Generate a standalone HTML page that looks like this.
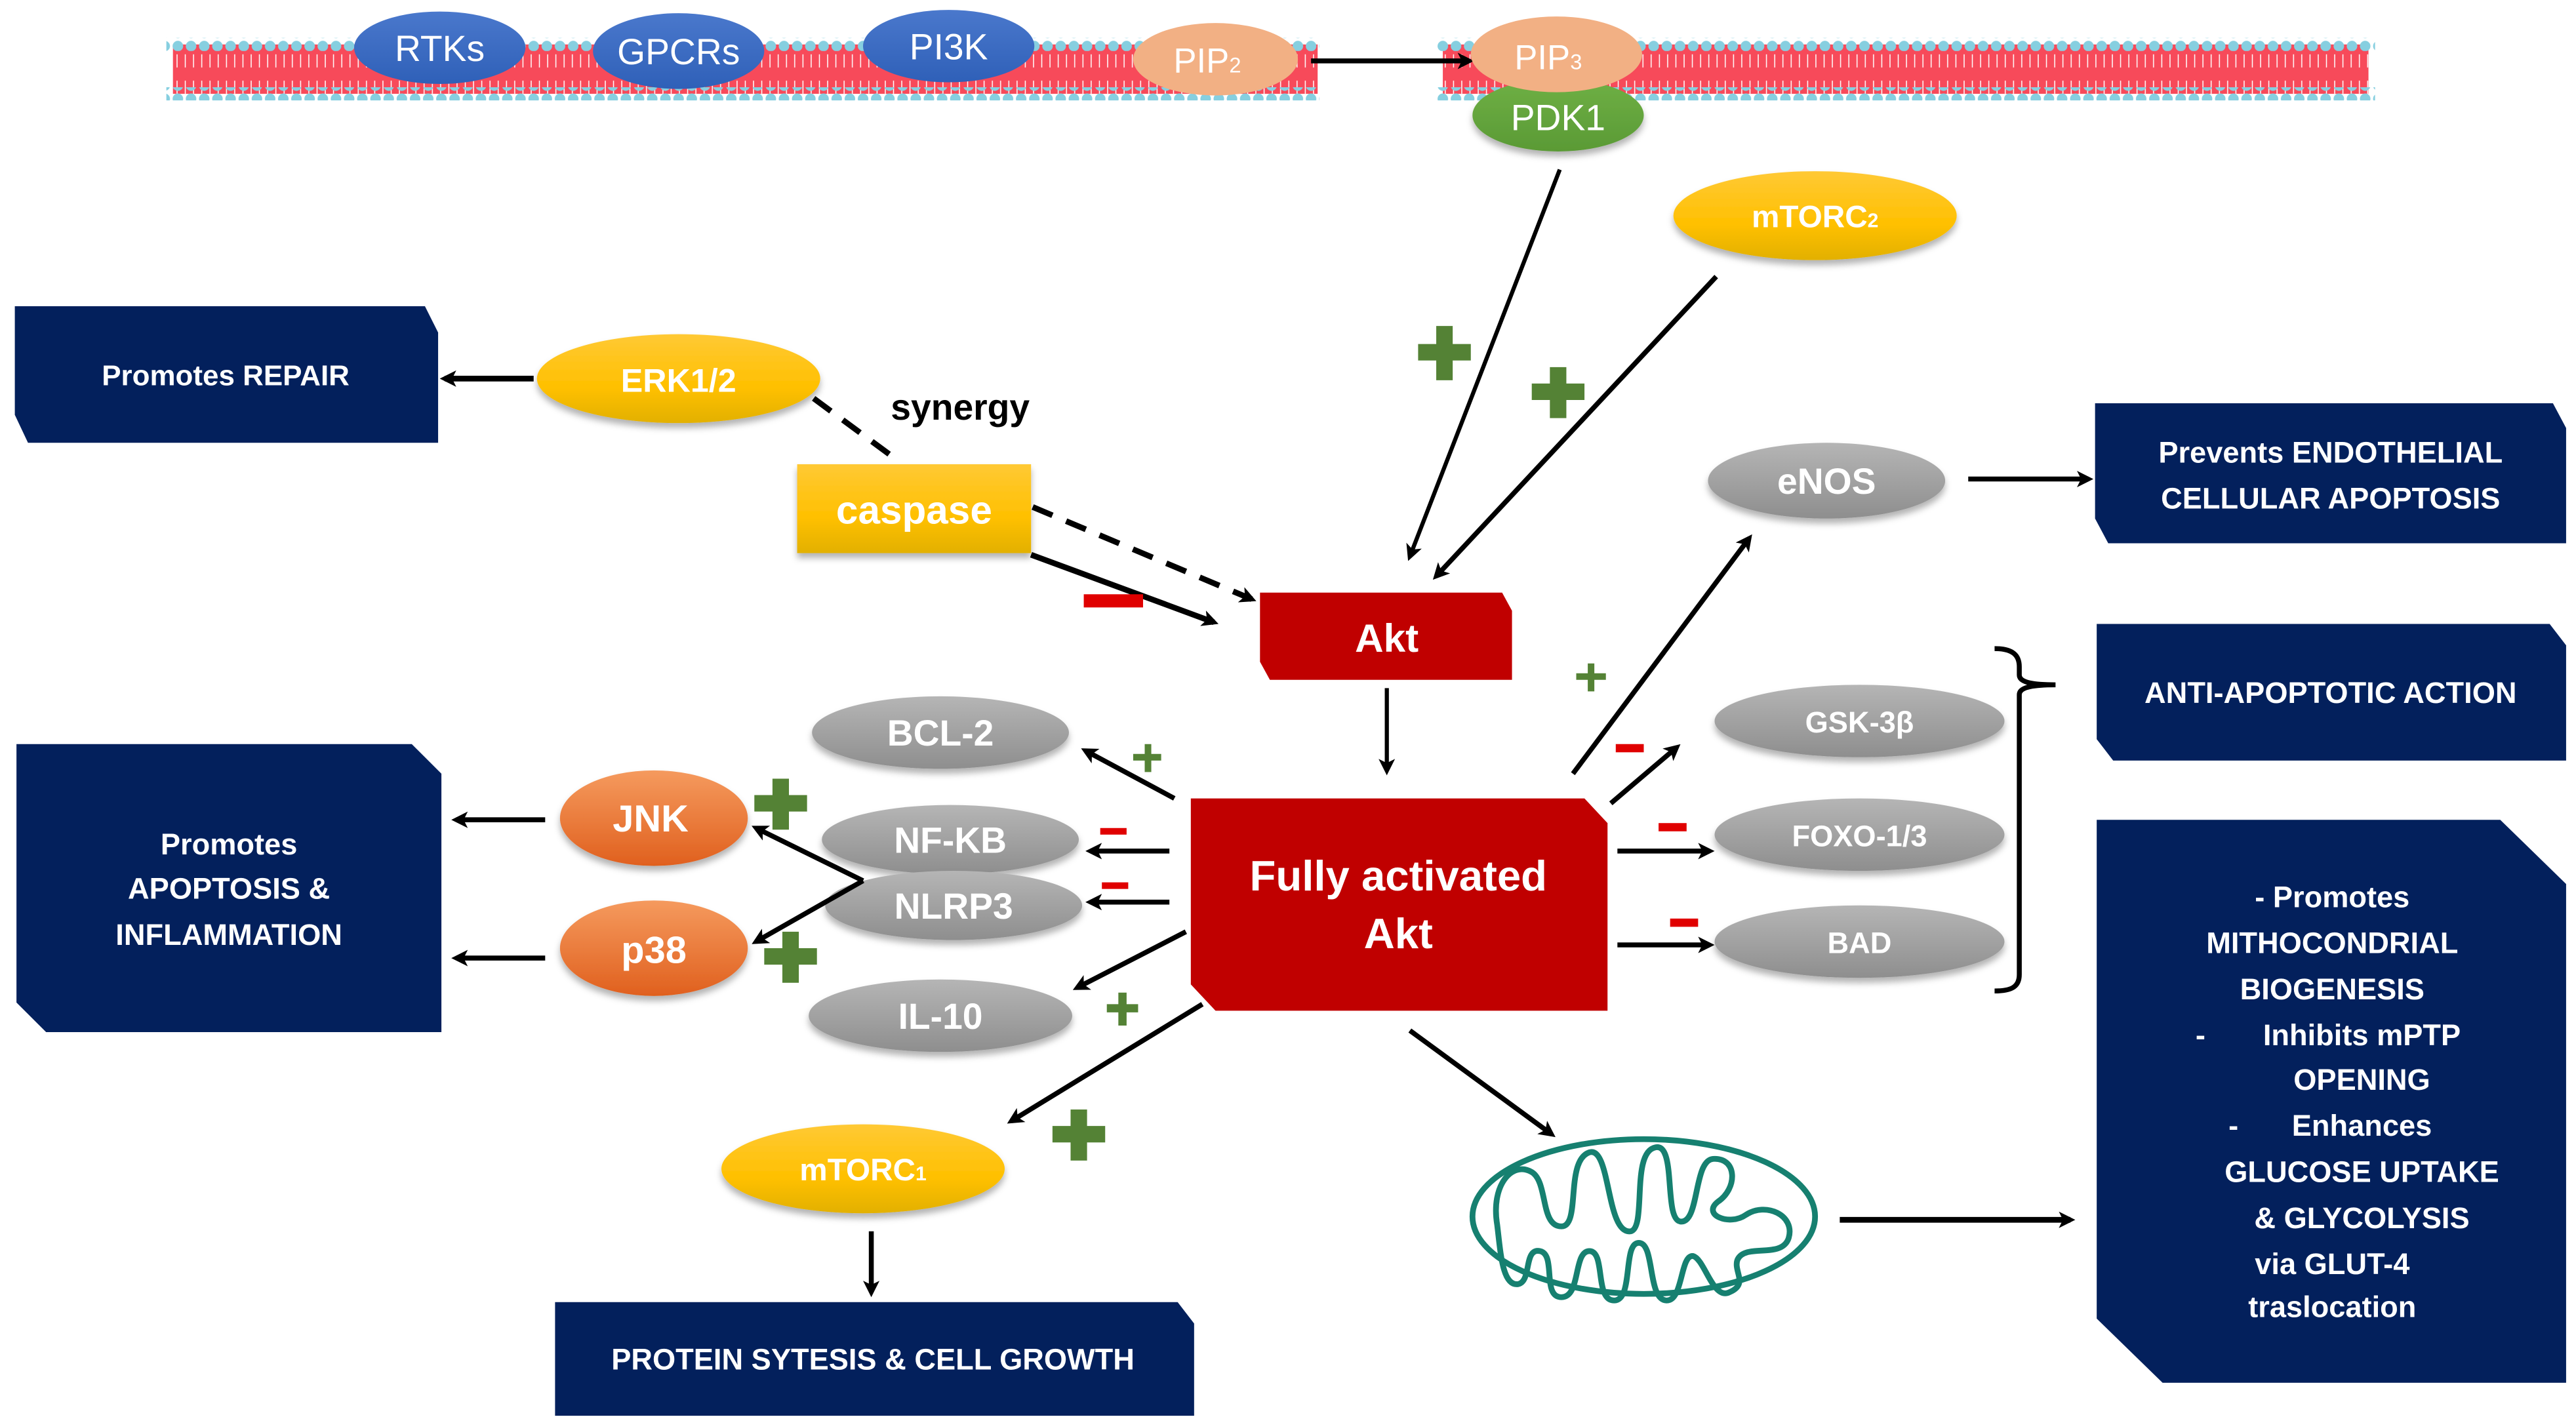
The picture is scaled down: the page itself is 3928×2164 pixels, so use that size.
<!DOCTYPE html>
<html><head><meta charset="utf-8"><style>
html,body{margin:0;padding:0;background:#fff;}
svg{display:block;}
text{font-family:"Liberation Sans",sans-serif;}
</style></head><body>
<svg width="3928" height="2164" viewBox="0 0 1564 862" preserveAspectRatio="none" xmlns="http://www.w3.org/2000/svg">
<defs>
<linearGradient id="yel" x1="0" y1="0" x2="0" y2="1"><stop offset="0" stop-color="#ffc935"/><stop offset="0.6" stop-color="#ffc000"/><stop offset="1" stop-color="#e2b000"/></linearGradient>
<linearGradient id="gry" x1="0" y1="0" x2="0" y2="1"><stop offset="0" stop-color="#b5b5b5"/><stop offset="1" stop-color="#8e8e8e"/></linearGradient>
<linearGradient id="blu" x1="0" y1="0" x2="0" y2="1"><stop offset="0" stop-color="#4a78cc"/><stop offset="1" stop-color="#2f60b8"/></linearGradient>
<linearGradient id="org" x1="0" y1="0" x2="0" y2="1"><stop offset="0" stop-color="#f59a5e"/><stop offset="1" stop-color="#e0601e"/></linearGradient>
<linearGradient id="grn" x1="0" y1="0" x2="0" y2="1"><stop offset="0" stop-color="#6fb045"/><stop offset="1" stop-color="#5a9a35"/></linearGradient>
<pattern id="dots" x="0" y="0" width="8" height="8" patternUnits="userSpaceOnUse"><circle cx="4" cy="4" r="3.2" fill="#86cfe0"/></pattern>
<pattern id="lip" x="0" y="0" width="5" height="30" patternUnits="userSpaceOnUse"><rect width="5" height="30" fill="#f74a5a"/><line x1="2.5" y1="3" x2="2.5" y2="11" stroke="#fff" stroke-width="0.6"/><line x1="2.5" y1="19" x2="2.5" y2="27" stroke="#fff" stroke-width="0.6"/></pattern>
<marker id="ah" markerWidth="10" markerHeight="10" refX="7" refY="5" orient="auto" markerUnits="userSpaceOnUse" viewBox="0 0 10 10"><path d="M0,0 L10,5 L0,10 L2.5,5z" fill="#000"/></marker>
<filter id="sh" x="-20%" y="-20%" width="140%" height="160%"><feDropShadow dx="0" dy="3" stdDeviation="2" flood-color="#000" flood-opacity="0.3"/></filter>
</defs>

<rect x="105" y="27" width="695" height="30" fill="url(#lip)"/>
<rect x="101" y="23" width="700" height="8" fill="url(#dots)"/>
<rect x="101" y="53" width="700" height="8" fill="url(#dots)"/>
<rect x="876" y="27" width="562" height="30" fill="url(#lip)"/>
<rect x="872" y="23" width="570" height="8" fill="url(#dots)"/>
<rect x="872" y="53" width="570" height="8" fill="url(#dots)"/>

<ellipse cx="267" cy="29" rx="52" ry="22" fill="url(#blu)"/>
<text x="267" y="37" font-size="22" fill="#fff" text-anchor="middle">RTKs</text>
<ellipse cx="412" cy="31" rx="52" ry="23" fill="url(#blu)"/>
<text x="412" y="39" font-size="22" fill="#fff" text-anchor="middle">GPCRs</text>
<ellipse cx="576" cy="28" rx="52" ry="22" fill="url(#blu)"/>
<text x="576" y="36" font-size="22" fill="#fff" text-anchor="middle">PI3K</text>
<ellipse cx="738" cy="36" rx="50" ry="22" fill="#f2b084"/>
<text x="733" y="44" font-size="21" fill="#fff" text-anchor="middle">PIP<tspan font-size="13">2</tspan></text>
<line x1="796" y1="37" x2="892" y2="37" stroke="#000" stroke-width="3" marker-end="url(#ah)"/>
<ellipse cx="946" cy="70" rx="52" ry="22" fill="url(#grn)" filter="url(#sh)"/>
<text x="946" y="79" font-size="22" fill="#fff" text-anchor="middle">PDK1</text>
<ellipse cx="945" cy="33" rx="52" ry="23" fill="#f2b084"/>
<text x="940" y="42" font-size="21" fill="#fff" text-anchor="middle">PIP<tspan font-size="13">3</tspan></text>

<ellipse cx="1102" cy="131" rx="86" ry="27" fill="url(#yel)" filter="url(#sh)"/>
<text x="1102" y="138" font-size="19" font-weight="bold" fill="#fff" text-anchor="middle">mTORC<tspan font-size="12">2</tspan></text>
<line x1="947" y1="103" x2="856" y2="338" stroke="#000" stroke-width="2.5" marker-end="url(#ah)"/>
<line x1="1042" y1="168" x2="872" y2="350" stroke="#000" stroke-width="3" marker-end="url(#ah)"/>
<path d="M872,198h10v11h11v10h-11v12h-10v-12h-11v-10h11z" fill="#548235"/>
<path d="M941,223h10v10h11v10h-11v11h-10v-11h-11v-10h11z" fill="#548235"/>

<path d="M9,186 H258 L266,202 V269 H17 L9,252z" fill="#03205c"/>
<text x="137" y="234" font-size="17.5" font-weight="bold" fill="#fff" text-anchor="middle">Promotes REPAIR</text>
<ellipse cx="412" cy="230" rx="86" ry="27" fill="url(#yel)" filter="url(#sh)"/>
<text x="412" y="238" font-size="20" font-weight="bold" fill="#fff" text-anchor="middle">ERK1/2</text>
<line x1="324" y1="230" x2="270" y2="230" stroke="#000" stroke-width="3.5" marker-end="url(#ah)"/>
<text x="583" y="255" font-size="22" font-weight="bold" fill="#000" text-anchor="middle">synergy</text>
<line x1="494" y1="242" x2="540" y2="276" stroke="#000" stroke-width="3.5" stroke-dasharray="13,9"/>
<line x1="627" y1="308" x2="760" y2="364" stroke="#000" stroke-width="3.5" stroke-dasharray="13,9" marker-end="url(#ah)"/>
<rect x="484" y="282" width="142" height="54" fill="url(#yel)" filter="url(#sh)"/>
<text x="555" y="318" font-size="24" font-weight="bold" fill="#fff" text-anchor="middle">caspase</text>
<line x1="626" y1="337" x2="737" y2="378" stroke="#000" stroke-width="3.5" marker-end="url(#ah)"/>
<rect x="658" y="361" width="36" height="8" fill="#e00000"/>

<path d="M765,360 H912 L918,371 V413 H771 L765,402z" fill="#c00000"/>
<text x="842" y="396" font-size="24" font-weight="bold" fill="#fff" text-anchor="middle">Akt</text>
<line x1="842" y1="418" x2="842" y2="468" stroke="#000" stroke-width="2.5" marker-end="url(#ah)"/>

<path d="M723,485 H962 L976,500 V614 H738 L723,598z" fill="#c00000"/>
<text x="849" y="541" font-size="26" font-weight="bold" fill="#fff" text-anchor="middle">Fully activated</text>
<text x="849" y="576" font-size="26" font-weight="bold" fill="#fff" text-anchor="middle">Akt</text>

<ellipse cx="571" cy="445" rx="78" ry="22" fill="url(#gry)" filter="url(#sh)"/>
<text x="571" y="453" font-size="22" font-weight="bold" fill="#fff" text-anchor="middle">BCL-2</text>
<ellipse cx="577" cy="510" rx="78" ry="21" fill="url(#gry)" filter="url(#sh)"/>
<text x="577" y="518" font-size="22" font-weight="bold" fill="#fff" text-anchor="middle">NF-KB</text>
<ellipse cx="579" cy="550" rx="78" ry="21" fill="url(#gry)" filter="url(#sh)"/>
<text x="579" y="558" font-size="22" font-weight="bold" fill="#fff" text-anchor="middle">NLRP3</text>
<ellipse cx="571" cy="617" rx="80" ry="22" fill="url(#gry)" filter="url(#sh)"/>
<text x="571" y="625" font-size="22" font-weight="bold" fill="#fff" text-anchor="middle">IL-10</text>

<line x1="713" y1="485" x2="659" y2="456" stroke="#000" stroke-width="3" marker-end="url(#ah)"/>
<path d="M695,452h4v6h6v4h-6v7h-4v-7h-7v-4h7z" fill="#548235"/>
<line x1="710" y1="517" x2="662" y2="517" stroke="#000" stroke-width="3" marker-end="url(#ah)"/>
<rect x="668" y="503" width="16" height="4" fill="#e00000"/>
<line x1="710" y1="548" x2="662" y2="548" stroke="#000" stroke-width="3" marker-end="url(#ah)"/>
<rect x="669" y="536" width="16" height="4" fill="#e00000"/>
<line x1="720" y1="566" x2="654" y2="600" stroke="#000" stroke-width="3" marker-end="url(#ah)"/>
<path d="M679,603h5v7h7v5h-7v8h-5v-8h-7v-5h7z" fill="#548235"/>
<line x1="730" y1="610" x2="614" y2="681" stroke="#000" stroke-width="3" marker-end="url(#ah)"/>
<path d="M650,674h10v10h11v10h-11v11h-10v-11h-11v-10h11z" fill="#548235"/>

<ellipse cx="397" cy="497" rx="57" ry="29" fill="url(#org)" filter="url(#sh)"/>
<text x="395" y="505" font-size="23" font-weight="bold" fill="#fff" text-anchor="middle">JNK</text>
<ellipse cx="397" cy="576" rx="57" ry="29" fill="url(#org)" filter="url(#sh)"/>
<text x="397" y="585" font-size="23" font-weight="bold" fill="#fff" text-anchor="middle">p38</text>
<line x1="524" y1="535" x2="459" y2="503" stroke="#000" stroke-width="3" marker-end="url(#ah)"/>
<line x1="524" y1="535" x2="459" y2="572" stroke="#000" stroke-width="3" marker-end="url(#ah)"/>
<path d="M469,473h10v10h11v10h-11v11h-10v-11h-11v-10h11z" fill="#548235"/>
<path d="M475,566h10v10h11v10h-11v11h-10v-11h-11v-10h11z" fill="#548235"/>
<line x1="331" y1="498" x2="277" y2="498" stroke="#000" stroke-width="3" marker-end="url(#ah)"/>
<line x1="331" y1="582" x2="277" y2="582" stroke="#000" stroke-width="3" marker-end="url(#ah)"/>
<path d="M10,452 H250 L268,470 V627 H28 L10,609z" fill="#03205c"/>
<text x="139" y="519" font-size="18" font-weight="bold" fill="#fff" text-anchor="middle">Promotes</text>
<text x="139" y="546" font-size="18" font-weight="bold" fill="#fff" text-anchor="middle">APOPTOSIS &amp;</text>
<text x="139" y="574" font-size="18" font-weight="bold" fill="#fff" text-anchor="middle">INFLAMMATION</text>

<ellipse cx="524" cy="710" rx="86" ry="27" fill="url(#yel)" filter="url(#sh)"/>
<text x="524" y="717" font-size="19" font-weight="bold" fill="#fff" text-anchor="middle">mTORC<tspan font-size="12">1</tspan></text>
<line x1="529" y1="748" x2="529" y2="785" stroke="#000" stroke-width="3" marker-end="url(#ah)"/>
<path d="M337,791 H715 L725,804 V860 H337z" fill="#03205c"/>
<text x="530" y="832" font-size="18" font-weight="bold" fill="#fff" text-anchor="middle">PROTEIN SYTESIS &amp; CELL GROWTH</text>

<line x1="856" y1="626" x2="942" y2="689" stroke="#000" stroke-width="3" marker-end="url(#ah)"/>
<g fill="none" stroke="#168070" stroke-width="3.5" stroke-linecap="round">
<ellipse cx="998" cy="739" rx="104" ry="47"/>
<path d="M909,744 C905,720 918,705 930,712 C940,718 935,745 948,745 C960,745 950,705 965,700 C978,696 975,750 990,748 C1000,746 990,700 1005,697 C1018,694 1010,740 1020,742 C1032,744 1028,705 1040,704 C1055,703 1055,722 1043,730 C1033,738 1050,745 1060,738 C1072,730 1090,738 1086,752 C1082,765 1060,755 1055,765 C1052,772 1062,780 1050,785 C1040,790 1035,765 1028,763 C1020,762 1022,790 1012,790 C1000,790 1005,755 995,755 C985,755 992,790 980,790 C968,790 975,760 965,760 C955,760 960,788 948,788 C936,788 945,762 935,760 C925,758 930,778 922,780 C912,782 911,760 909,744z"/>
</g>
<line x1="1117" y1="741" x2="1257" y2="741" stroke="#000" stroke-width="3.5" marker-end="url(#ah)"/>
<path d="M1273,498 H1518 L1558,537 V840 H1313 L1273,801z" fill="#03205c"/>
<g font-size="18" font-weight="bold" fill="#fff" text-anchor="middle">
<text x="1416" y="551">- Promotes</text>
<text x="1416" y="579">MITHOCONDRIAL</text>
<text x="1416" y="607">BIOGENESIS</text>
<text x="1336" y="635">-</text><text x="1434" y="635">Inhibits mPTP</text>
<text x="1434" y="662">OPENING</text>
<text x="1356" y="690">-</text><text x="1434" y="690">Enhances</text>
<text x="1434" y="718">GLUCOSE UPTAKE</text>
<text x="1434" y="746">&amp; GLYCOLYSIS</text>
<text x="1416" y="774">via GLUT-4</text>
<text x="1416" y="800">traslocation</text>
</g>

<line x1="955" y1="470" x2="1062" y2="327" stroke="#000" stroke-width="3" marker-end="url(#ah)"/>
<path d="M964,403h4v6h7v4h-7v7h-4v-7h-7v-4h7z" fill="#548235"/>
<ellipse cx="1109" cy="292" rx="72" ry="23" fill="url(#gry)" filter="url(#sh)"/>
<text x="1109" y="300" font-size="22" font-weight="bold" fill="#fff" text-anchor="middle">eNOS</text>
<line x1="1195" y1="291" x2="1268" y2="291" stroke="#000" stroke-width="3" marker-end="url(#ah)"/>
<path d="M1272,245 H1550 L1558,260 V330 H1280 L1272,315z" fill="#03205c"/>
<text x="1415" y="281" font-size="18" font-weight="bold" fill="#fff" text-anchor="middle">Prevents ENDOTHELIAL</text>
<text x="1415" y="309" font-size="18" font-weight="bold" fill="#fff" text-anchor="middle">CELLULAR APOPTOSIS</text>

<line x1="978" y1="488" x2="1018" y2="454" stroke="#000" stroke-width="3" marker-end="url(#ah)"/>
<rect x="981" y="452" width="17" height="5" fill="#e00000"/>
<ellipse cx="1129" cy="438" rx="88" ry="22" fill="url(#gry)" filter="url(#sh)"/>
<text x="1129" y="445" font-size="18" font-weight="bold" fill="#fff" text-anchor="middle">GSK-3β</text>
<ellipse cx="1129" cy="507" rx="88" ry="22" fill="url(#gry)" filter="url(#sh)"/>
<text x="1129" y="514" font-size="18" font-weight="bold" fill="#fff" text-anchor="middle">FOXO-1/3</text>
<ellipse cx="1129" cy="572" rx="88" ry="22" fill="url(#gry)" filter="url(#sh)"/>
<text x="1129" y="579" font-size="18" font-weight="bold" fill="#fff" text-anchor="middle">BAD</text>
<line x1="982" y1="517" x2="1038" y2="517" stroke="#000" stroke-width="3" marker-end="url(#ah)"/>
<rect x="1007" y="500" width="17" height="5" fill="#e00000"/>
<line x1="982" y1="574" x2="1038" y2="574" stroke="#000" stroke-width="3" marker-end="url(#ah)"/>
<rect x="1014" y="558" width="17" height="5" fill="#e00000"/>
<path d="M1211,394 C1222,394 1226,398 1226,405 L1226,410 C1226,414 1232,416 1248,416 C1232,416 1226,418 1226,422 L1226,592 C1226,599 1222,602 1211,602" fill="none" stroke="#000" stroke-width="3"/>
<path d="M1273,379 H1548 L1558,392 V462 H1283 L1273,449z" fill="#03205c"/>
<text x="1415" y="427" font-size="18" font-weight="bold" fill="#fff" text-anchor="middle">ANTI-APOPTOTIC ACTION</text>
</svg>
</body></html>
